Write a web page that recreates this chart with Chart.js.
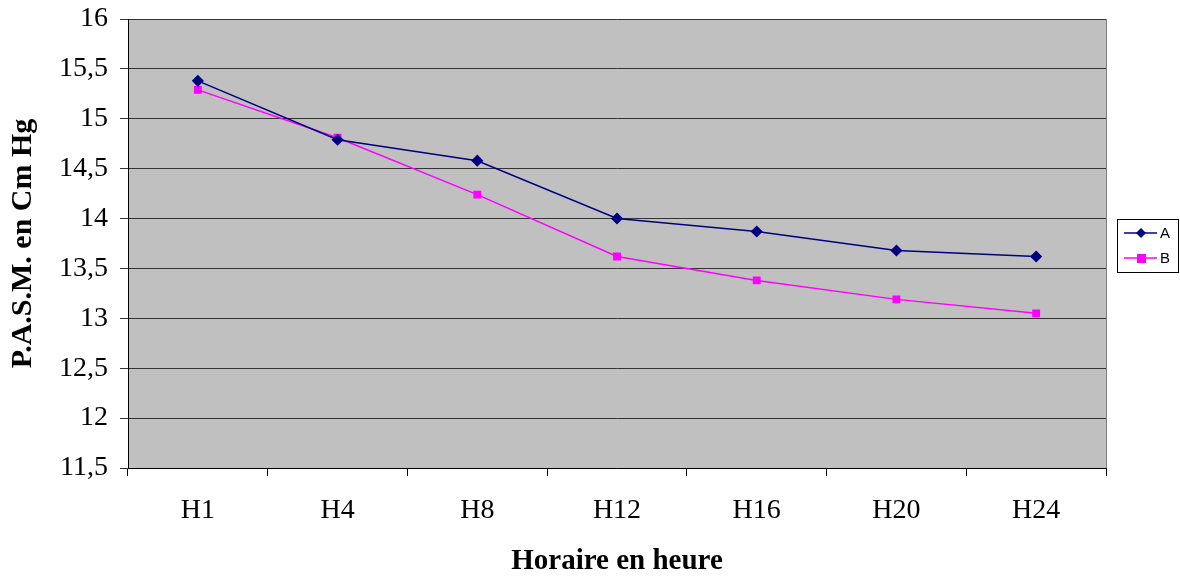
<!DOCTYPE html>
<html><head><meta charset="utf-8">
<script src="https://cdn.jsdelivr.net/npm/chart.js@4"></script>
<style>html,body{margin:0;padding:0;background:#fff}canvas{display:block}</style>
</head><body>
<canvas id="c" width="1180" height="576"></canvas>
<script>
const categories = ['H1','H4','H8','H12','H16','H20','H24'];
const seriesA = [15.38, 14.79, 14.58, 14.00, 13.87, 13.68, 13.62];
const seriesB = [15.29, 14.81, 14.24, 13.62, 13.38, 13.19, 13.05];
const yLabel = 'P.A.S.M. en Cm Hg';
const xLabel = 'Horaire en heure';

const serif = '"Liberation Serif", "Times New Roman", serif';

const bgPlugin = {
  id: 'bg',
  beforeDraw(chart) {
    const {ctx, chartArea: a} = chart;
    ctx.save();
    ctx.fillStyle = '#C0C0C0';
    ctx.fillRect(a.left, a.top, a.right - a.left, a.bottom - a.top);
    ctx.restore();
  },
  afterDatasetsDraw(chart) {
    const {ctx, chartArea: a} = chart;
    ctx.save();
    ctx.strokeStyle = '#808080';
    ctx.lineWidth = 1;
    ctx.beginPath();
    ctx.moveTo(a.right + 0.5, a.top);
    ctx.lineTo(a.right + 0.5, a.bottom);
    ctx.stroke();
    ctx.restore();
  }
};

const legendPlugin = {
  id: 'customLegend',
  afterDraw(chart) {
    const ctx = chart.ctx;
    const x0 = 1117, y0 = 219, w = 61, h = 53;
    ctx.save();
    ctx.fillStyle = '#fff';
    ctx.fillRect(x0, y0, w, h);
    ctx.strokeStyle = '#000';
    ctx.lineWidth = 1;
    ctx.strokeRect(x0 + 0.5, y0 + 0.5, w, h);
    chart.data.datasets.forEach((ds, i) => {
      const y = y0 + 14 + i * 25;
      ctx.strokeStyle = ds.borderColor;
      ctx.lineWidth = 1.5;
      ctx.beginPath();
      ctx.moveTo(x0 + 7, y);
      ctx.lineTo(x0 + 40, y);
      ctx.stroke();
      ctx.fillStyle = ds.pointBackgroundColor;
      if (ds.pointStyle === 'rectRot') {
        ctx.beginPath();
        ctx.moveTo(x0 + 24, y - 5);
        ctx.lineTo(x0 + 29, y);
        ctx.lineTo(x0 + 24, y + 5);
        ctx.lineTo(x0 + 19, y);
        ctx.closePath();
        ctx.fill();
      } else {
        ctx.fillRect(x0 + 20, y - 4, 9, 9);
      }
      ctx.fillStyle = '#000';
      ctx.font = '15px "Liberation Sans", Arial, sans-serif';
      ctx.textBaseline = 'middle';
      ctx.fillText(ds.label, x0 + 43, y + 1);
    });
    ctx.restore();
  }
};

new Chart(document.getElementById('c'), {
  type: 'line',
  data: {
    labels: categories,
    datasets: [
      { label: 'A', data: seriesA, borderColor: '#000080', backgroundColor: '#000080',
        pointBackgroundColor: '#000080', pointBorderColor: '#000080',
        pointStyle: 'rectRot', pointRadius: 5, borderWidth: 1.5, tension: 0 },
      { label: 'B', data: seriesB, borderColor: '#FF00FF', backgroundColor: '#FF00FF',
        pointBackgroundColor: '#FF00FF', pointBorderColor: '#FF00FF',
        pointStyle: 'rect', pointRadius: 4.5, borderWidth: 1.5, tension: 0 }
    ]
  },
  options: {
    responsive: false,
    animation: false,
    devicePixelRatio: 1,
    layout: { padding: { top: 0, right: 74, bottom: 0, left: 5 } },
    plugins: { legend: { display: false }, tooltip: { enabled: false } },
    scales: {
      x: {
        offset: true,
        grid: { offset: true, drawOnChartArea: false, drawTicks: true, tickLength: 8, color: '#000' },
        border: { display: true, color: '#000', width: 1 },
        ticks: { color: '#000', font: { family: serif, size: 28, lineHeight: 1.0 }, padding: 21, maxRotation: 0 },
        title: { display: true, text: xLabel, color: '#000', font: { family: serif, size: 29, weight: 'bold', lineHeight: 1.0 }, padding: { top: 1, bottom: 0 } }
      },
      y: {
        min: 11.5, max: 16,
        grid: { color: '#333', drawTicks: true, tickLength: 8 },
        border: { display: true, color: '#000', width: 1 },
        ticks: { stepSize: 0.5, color: '#000', font: { family: serif, size: 28, lineHeight: 0.5 }, padding: 12,
          callback: v => String(v).replace('.', ',') },
        title: { display: true, text: yLabel, color: '#000', font: { family: serif, size: 30, weight: 'bold' }, padding: { top: 0, bottom: 6 } }
      }
    }
  },
  plugins: [bgPlugin, legendPlugin]
});
</script>
</body></html>
